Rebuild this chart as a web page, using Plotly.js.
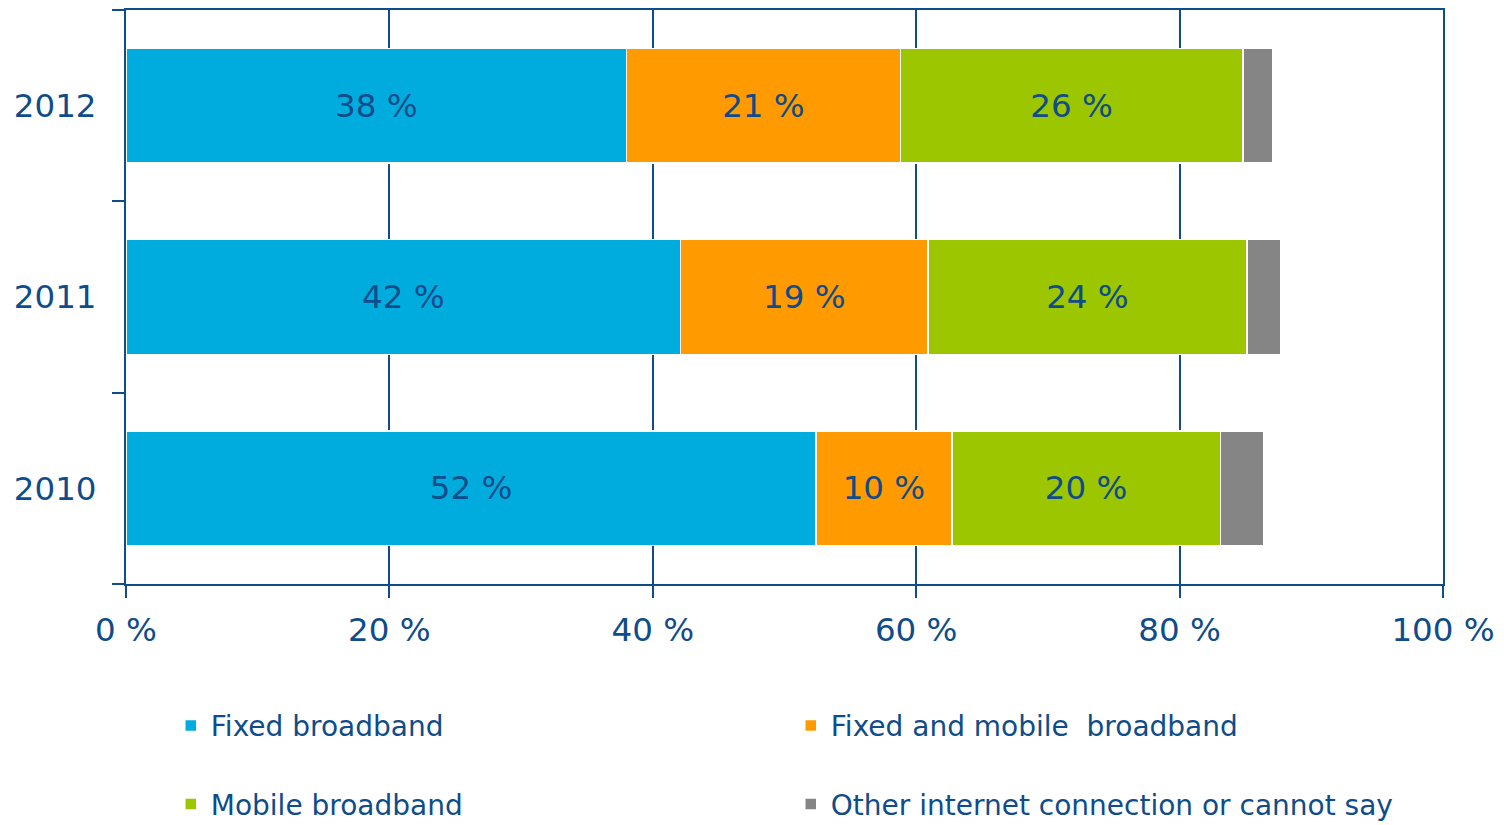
<!DOCTYPE html>
<html>
<head>
<meta charset="utf-8">
<script src="https://cdn.plot.ly/plotly-3.0.1.min.js"></script>
<style>html,body{margin:0;padding:0;background:#fff;}#chart{width:1504px;height:825px;}</style>
</head>
<body>
<div id="chart"></div>
<script>
const years = ['2010', '2011', '2012'];
const seriesNames = ['Fixed broadband', 'Fixed and mobile  broadband', 'Mobile broadband', 'Other internet connection or cannot say'];
const fixedBroadband = [52.4, 42.1, 38.0];
const fixedAndMobile = [10.3, 18.8, 20.8];
const mobileBroadband = [20.4, 24.2, 26.0];
const otherOrCannotSay = [3.3, 2.6, 2.3];
const xTicks = [0, 20, 40, 60, 80, 100];

const navy = '#0F4C8A';
const colors = ['#00ACDE', '#FF9A00', '#9BC600', '#858585'];
const font = 'DejaVu Sans, Verdana, sans-serif';

const seriesValues = [fixedBroadband, fixedAndMobile, mobileBroadband, otherOrCannotSay];
const traces = seriesValues.map((vals, i) => ({
  type: 'bar',
  orientation: 'h',
  name: seriesNames[i],
  y: years,
  x: vals,
  width: 0.6,
  marker: {color: colors[i], line: {color: '#ffffff', width: 1.5}},
  texttemplate: i < 3 ? '%{x:.0f} %' : '',
  textposition: i < 3 ? 'inside' : 'none',
  insidetextanchor: 'middle',
  textfont: {family: font, size: 32.5, color: navy},
  constraintext: 'none',
  hoverinfo: 'x+name',
  legend: i < 2 ? 'legend' : 'legend2'
}));

const legendCommon = {
  orientation: 'h',
  xanchor: 'left',
  yanchor: 'middle',
  x: 0.034,
  entrywidth: 575,
  entrywidthmode: 'pixels',
  font: {family: font, size: 28, color: navy},
  bgcolor: 'rgba(0,0,0,0)',
  traceorder: 'normal'
};

const layout = {
  width: 1504,
  height: 825,
  margin: {l: 126, r: 61, t: 10, b: 241, autoexpand: false},
  paper_bgcolor: '#ffffff',
  plot_bgcolor: '#ffffff',
  barmode: 'stack',
  showlegend: true,
  font: {family: font, color: navy},
  xaxis: {
    range: [0, 100],
    tickvals: xTicks,
    ticktext: xTicks.map(v => v + ' %'),
    showgrid: true,
    gridcolor: navy,
    gridwidth: 2,
    zeroline: false,
    showline: true,
    linecolor: navy,
    linewidth: 2,
    mirror: true,
    ticks: 'outside',
    ticklen: 12,
    tickwidth: 2,
    tickcolor: navy,
    ticklabelstandoff: 4,
    tickfont: {family: font, size: 32.5, color: navy},
    fixedrange: true
  },
  yaxis: {
    type: 'category',
    categoryorder: 'array',
    categoryarray: years,
    range: [-0.5, 2.5],
    showgrid: false,
    zeroline: false,
    showline: true,
    linecolor: navy,
    linewidth: 2,
    mirror: true,
    ticks: 'outside',
    tickson: 'boundaries',
    ticklen: 12,
    tickwidth: 2,
    tickcolor: navy,
    ticklabelstandoff: 21,
    tickfont: {family: font, size: 32.5, color: navy},
    fixedrange: true
  },
  legend: Object.assign({}, legendCommon, {y: -0.247}),
  legend2: Object.assign({}, legendCommon, {y: -0.384})
};

Plotly.newPlot('chart', traces, layout, {displayModeBar: false, responsive: false});
</script>
</body>
</html>
